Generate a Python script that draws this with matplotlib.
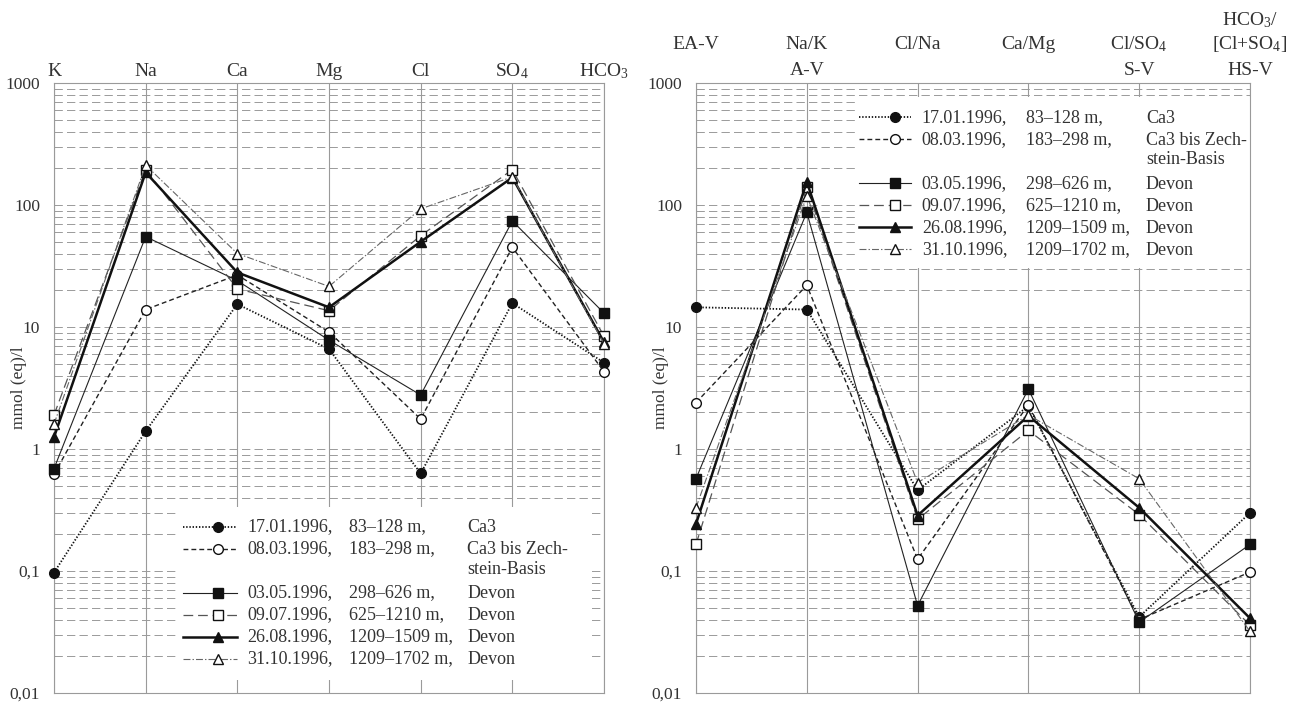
import matplotlib
matplotlib.use('Agg')
import matplotlib.pyplot as plt
from matplotlib.patches import Rectangle
from matplotlib.lines import Line2D

plt.rcParams['font.family'] = ['Liberation Serif', 'DejaVu Serif']
plt.rcParams['mathtext.fontset'] = 'custom'
plt.rcParams['mathtext.rm'] = 'Liberation Serif'
plt.rcParams['mathtext.it'] = 'Liberation Serif:italic'
plt.rcParams['mathtext.bf'] = 'Liberation Serif:bold'
plt.rcParams['lines.scale_dashes'] = False

TXT = '#333333'
GRID = '#9a9a9a'

# ---------------- data ----------------
left_categories = ['K', 'Na', 'Ca', 'Mg', 'Cl', r'SO$_4$', r'HCO$_3$']
right_label_rows = [
    ['', 'EA-V', ''],
    ['', 'Na/K', 'A-V'],
    ['', 'Cl/Na', ''],
    ['', 'Ca/Mg', ''],
    ['', r'Cl/SO$_4$', 'S-V'],
    [r'HCO$_3$/', r'[Cl+SO$_4$]', 'HS-V'],
]

dates = ['17.01.1996,', '08.03.1996,', '03.05.1996,', '09.07.1996,', '26.08.1996,', '31.10.1996,']
depths = ['83–128 m,', '183–298 m,', '298–626 m,', '625–1210 m,', '1209–1509 m,', '1209–1702 m,']
formations = ['Ca3', 'Ca3 bis Zech-\nstein-Basis', 'Devon', 'Devon', 'Devon', 'Devon']

# left panel: ion concentrations, mmol (eq)/l
left_s1 = [0.097, 1.4, 15.4, 6.6, 0.63, 15.7, 5.1]
left_s2 = [0.62, 13.9, 26.7, 9.1, 1.76, 45, 4.3]
left_s3 = [0.69, 55, 24, 7.8, 2.77, 74, 13]
left_s4 = [1.9, 195, 20.5, 13.6, 56, 195, 8.4]
left_s5 = [1.25, 185, 28, 14.5, 50, 168, 7.5]
left_s6 = [1.6, 212, 40, 21.5, 93, 170, 7.3]

# right panel: ratios
right_s1 = [14.5, 13.9, 0.46, 2.25, 0.042, 0.30]
right_s2 = [2.4, 22, 0.125, 2.3, 0.040, 0.098]
right_s3 = [0.57, 87, 0.052, 3.1, 0.038, 0.165]
right_s4 = [0.165, 140, 0.265, 1.42, 0.29, 0.036]
right_s5 = [0.243, 155, 0.285, 1.87, 0.33, 0.041]
right_s6 = [0.33, 119, 0.53, 1.9, 0.57, 0.032]

ytick_values = [0.01, 0.1, 1, 10, 100, 1000]
ytick_labels = ['0,01', '0,1', '1', '10', '100', '1000']
ylabel = 'mmol (eq)/l'

left_series = [left_s1, left_s2, left_s3, left_s4, left_s5, left_s6]
right_series = [right_s1, right_s2, right_s3, right_s4, right_s5, right_s6]

# ---------------- styles ----------------
styles = [
    dict(ls=(0, (1, 1.3)), lw=1.3, color='#111111', marker='o', mfc='#111111'),
    dict(ls=(0, (3.5, 2.2)), lw=1.0, color='#222222', marker='o', mfc='white'),
    dict(ls='-', lw=0.8, color='#222222', marker='s', mfc='#111111'),
    dict(ls=(0, (7, 3.5)), lw=0.9, color='#555555', marker='s', mfc='white'),
    dict(ls='-', lw=1.8, color='#111111', marker='^', mfc='#111111'),
    dict(ls=(0, (5, 1.5, 1, 1.5)), lw=0.8, color='#666666', marker='^', mfc='white'),
]
MS = 7

fig = plt.figure(figsize=(12.97, 7.02), dpi=100)
ax_l = fig.add_axes([54 / 1297, 1 - 693 / 702, 550 / 1297, 610 / 702])
ax_r = fig.add_axes([696 / 1297, 1 - 693 / 702, 554 / 1297, 610 / 702])


def setup(ax, n):
    ax.set_yscale('log')
    ax.set_ylim(0.01, 1000)
    ax.set_xlim(0, n - 1)
    ax.set_axisbelow(True)
    ax.set_xticks(range(n))
    ax.tick_params(axis='x', length=0, labelbottom=False)
    ax.set_yticks(ytick_values)
    ax.set_yticklabels(ytick_labels)
    ax.tick_params(axis='y', which='both', length=0, pad=10, labelsize=12.5, labelcolor=TXT)
    ax.yaxis.grid(True, which='both', linestyle=(0, (6, 3)), color=GRID, lw=0.7)
    ax.xaxis.grid(True, linestyle='-', color=GRID, lw=0.8)
    for s in ax.spines.values():
        s.set_color(GRID)
        s.set_linewidth(0.8)
    ax.set_ylabel(ylabel, fontsize=12.5, color=TXT)


def draw_series(ax, series):
    for vals, st in zip(series, styles):
        ax.plot(range(len(vals)), vals, linestyle=st['ls'], lw=st['lw'], color=st['color'],
                marker=st['marker'], ms=MS, mfc=st['mfc'], mec='#111111', mew=1.0,
                zorder=3, clip_on=False)


def draw_legend(ax, box, xl0, xl1, xm, xd, xdep, xf, ytop):
    ax.add_patch(Rectangle((box[0], box[1]), box[2] - box[0], box[3] - box[1],
                           transform=ax.transAxes, facecolor='white', edgecolor='none', zorder=1))
    slots = [0, 1, 3, 4, 5, 6]
    dy = 22 / 610
    for i, st in enumerate(styles):
        y = ytop - slots[i] * dy
        ax.add_line(Line2D([xl0, xl1], [y, y], transform=ax.transAxes, linestyle=st['ls'],
                           lw=st['lw'], color=st['color'], zorder=4))
        ax.add_line(Line2D([xm], [y], transform=ax.transAxes, linestyle='none', marker=st['marker'],
                           ms=MS, mfc=st['mfc'], mec='#111111', mew=1.0, zorder=5))
        ax.text(xd, y, dates[i], transform=ax.transAxes, fontsize=13, color=TXT, va='center', ha='left', zorder=5)
        ax.text(xdep, y, depths[i], transform=ax.transAxes, fontsize=13, color=TXT, va='center', ha='left', zorder=5)
        ax.text(xf, y + 0.0125, formations[i], transform=ax.transAxes, fontsize=13, color=TXT,
                va='top', ha='left', linespacing=1.18, zorder=5)


setup(ax_l, len(left_categories))
setup(ax_r, len(right_label_rows))
ax_l.yaxis.set_label_coords(-0.049, 0.5)
ax_r.yaxis.set_label_coords(-0.049, 0.5)

draw_series(ax_l, left_series)
draw_series(ax_r, right_series)

# top category labels
for i, lab in enumerate(left_categories):
    ax_l.text(i, 1.0115, lab, transform=ax_l.get_xaxis_transform(), ha='center', va='baseline',
              fontsize=14, color=TXT)
row_y = [1.095, 1.0557, 1.013]
for i, rows in enumerate(right_label_rows):
    for r, lab in enumerate(rows):
        if lab:
            ax_r.text(i, row_y[r], lab, transform=ax_r.get_xaxis_transform(), ha='center',
                      va='baseline', fontsize=14, color=TXT)

# legends
draw_legend(ax_l, (0.226, 0.021, 0.973, 0.305), 0.234, 0.332, 0.299, 0.351, 0.5355, 0.751, 0.272)
draw_legend(ax_r, (0.2877, 0.697, 1.0, 0.977), 0.2951, 0.3888, 0.3588, 0.4076, 0.5948, 0.812, 0.944)

fig.savefig('out.png', dpi=100)
